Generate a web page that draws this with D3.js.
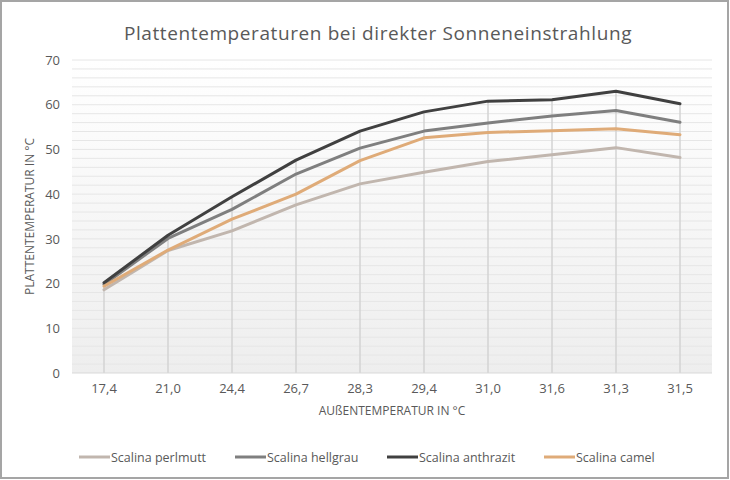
<!DOCTYPE html>
<html><head><meta charset="utf-8">
<script src="https://cdn.jsdelivr.net/npm/d3@7"></script>
<style>html,body{margin:0;padding:0;background:#fff}svg{display:block}</style>
</head><body>
<script>
const categories = ["17,4","21,0","24,4","26,7","28,3","29,4","31,0","31,6","31,3","31,5"];
const perlmutt  = [18.6, 27.4, 31.8, 37.6, 42.3, 44.9, 47.3, 48.8, 50.4, 48.2];
const hellgrau  = [19.8, 30.1, 36.6, 44.5, 50.3, 54.1, 55.9, 57.5, 58.7, 56.1];
const anthrazit = [20.2, 30.8, 39.4, 47.6, 54.1, 58.4, 60.8, 61.1, 63.0, 60.2];
const camel     = [19.4, 27.5, 34.4, 40.0, 47.5, 52.6, 53.8, 54.2, 54.6, 53.3];
const seriesNames = ["Scalina perlmutt","Scalina hellgrau","Scalina anthrazit","Scalina camel"];
const yTicks = [0,10,20,30,40,50,60,70];
const title = "Plattentemperaturen bei direkter Sonneneinstrahlung";
const xTitle = "AUßENTEMPERATUR IN °C";
const yTitle = "PLATTENTEMPERATUR IN °C";

const series = [
  {name: seriesNames[0], values: perlmutt,  color: "#c1b6ae"},
  {name: seriesNames[1], values: hellgrau,  color: "#7f7f7f"},
  {name: seriesNames[2], values: anthrazit, color: "#404040"},
  {name: seriesNames[3], values: camel,     color: "#dfab78"}
];

const W = 730, H = 480;
const m = {left: 72, right: 18, top: 60, bottom: 107};
const font = "'Open Sans', 'Noto Sans', sans-serif";
const svg = d3.select("body").append("svg").attr("width", W).attr("height", H);

// chart border
svg.append("rect").attr("x",1).attr("y",1).attr("width",W-3).attr("height",H-3)
  .attr("fill","#fff").attr("stroke","#a5a5a5").attr("stroke-width",2);

const x = d3.scaleBand().domain(categories).range([m.left, W - m.right]);
const y = d3.scaleLinear().domain([0,70]).range([H - m.bottom, m.top]);

// gradient background
const defs = svg.append("defs");
const grad = defs.append("linearGradient").attr("id","bg").attr("x1",0).attr("y1",0).attr("x2",0).attr("y2",1);
grad.append("stop").attr("offset","0%").attr("stop-color","#ffffff");
grad.append("stop").attr("offset","100%").attr("stop-color","#eeeeee");
svg.append("rect").attr("x", m.left).attr("y", y(70)).attr("width", W - m.right - m.left)
  .attr("height", y(0) - y(70)).attr("fill","url(#bg)");

// gridlines (major + minor every 2)
const gridVals = d3.range(2, 71, 2);
svg.append("g").selectAll("line").data(gridVals).join("line")
  .attr("x1", m.left).attr("x2", W - m.right)
  .attr("y1", d => y(d)).attr("y2", d => y(d))
  .attr("stroke", "#e6e6e6").attr("stroke-width", 1);

// drop lines
svg.append("g").selectAll("line").data(categories).join("line")
  .attr("x1", d => x(d) + x.bandwidth()/2).attr("x2", d => x(d) + x.bandwidth()/2)
  .attr("y1", (d,i) => y(d3.max(series, s => s.values[i])))
  .attr("y2", y(0))
  .attr("stroke", "#d3d3d3").attr("stroke-width", 1.5);

// x axis line
svg.append("line").attr("x1", m.left).attr("x2", W - m.right).attr("y1", y(0)).attr("y2", y(0))
  .attr("stroke","#d9d9d9").attr("stroke-width",1);

// lines
const line = d3.line().x((d,i) => x(categories[i]) + x.bandwidth()/2).y(d => y(d));
svg.append("g").selectAll("path").data(series).join("path")
  .attr("d", s => line(s.values)).attr("fill","none")
  .attr("stroke", s => s.color).attr("stroke-width", 3)
  .attr("stroke-linejoin","round").attr("stroke-linecap","round");

// y axis labels
const yAxis = d3.axisLeft(y).tickValues(yTicks).tickSize(0).tickPadding(12).tickFormat(d3.format("d"));
const ya = svg.append("g").attr("transform", `translate(${m.left},0)`).call(yAxis);
ya.select(".domain").remove();
ya.selectAll("text").attr("fill","#595959").style("font-family", font).style("font-size","13px");

// x axis labels
const xAxis = d3.axisBottom(x).tickSize(0).tickPadding(11);
const xa = svg.append("g").attr("transform", `translate(0,${y(0)})`).call(xAxis);
xa.select(".domain").remove();
xa.selectAll("text").attr("fill","#595959").style("font-family", font).style("font-size","13px");

// title
svg.append("text").attr("x", 378).attr("y", 40).attr("text-anchor","middle")
  .attr("fill","#595959").style("font-family", font).style("font-size","19px")
  .style("letter-spacing","0.6px").text(title);

// axis titles
svg.append("text").attr("x", (m.left + W - m.right)/2).attr("y", 415).attr("text-anchor","middle")
  .attr("fill","#595959").style("font-family", font).style("font-size","12px").text(xTitle);
svg.append("text").attr("transform", `translate(34,${(y(0)+y(70))/2}) rotate(-90)`)
  .attr("text-anchor","middle").attr("fill","#595959")
  .style("font-family", font).style("font-size","12px").text(yTitle);

// legend
const legX = [79, 235, 387, 544];
const lg = svg.append("g").selectAll("g").data(series).join("g")
  .attr("transform", (s,i) => `translate(${legX[i]},457)`);
lg.append("line").attr("x1",0).attr("x2",31).attr("y1",0).attr("y2",0)
  .attr("stroke", s => s.color).attr("stroke-width",3);
lg.append("text").attr("x",32).attr("y",4.5).attr("fill","#595959")
  .style("font-family", font).style("font-size","12.5px").text(s => s.name);
</script>
</body></html>
